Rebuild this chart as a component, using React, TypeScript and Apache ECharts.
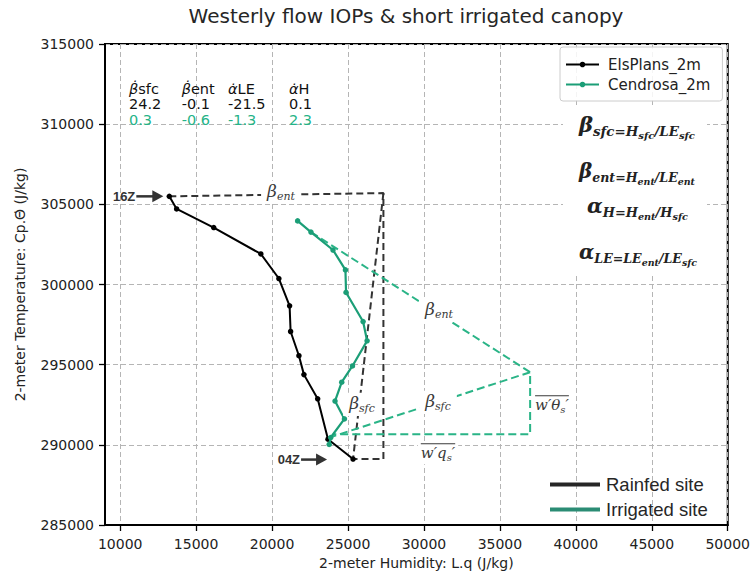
import React, { useEffect, useRef } from 'react';
import * as echarts from 'echarts';

// ---- data ----
const elsPlansX = [13234, 13716, 16158, 19260, 20448, 21154, 21220, 21768, 22098, 23002, 23682, 25332];
const elsPlansY = [305498, 304711, 303552, 301904, 300373, 298668, 297069, 295557, 294379, 292873, 290350, 289111];
const cendrosaX = [21682, 22560, 24012, 24830, 24870, 25992, 26256, 25292, 24586, 24144, 24764, 23860, 23761];
const cendrosaY = [303967, 303267, 302151, 300912, 299505, 297689, 296487, 294918, 293908, 292731, 291615, 290456, 290022];

const xTicks = [10000, 15000, 20000, 25000, 30000, 35000, 40000, 45000, 50000];
const yMin = 285000;
const yMax = 315000;
const yStep = 5000;

// ratio table (top-left)
const ratioSymbols = ['β̇', 'β̇', 'α̇', 'α̇'];
const ratioNames = ['sfc', 'ent', 'LE', 'H'];
const rainfedRatios = ['24.2', '-0.1', '-21.5', '0.1'];
const irrigatedRatios = ['0.3', '-0.6', '-1.3', '2.3'];

// annotation triangle vertices (data coordinates)
const rainfedCorner = [27330, 305700];
const irrigatedApex = [36990, 294530];
const irrigatedBottomY = 290660;
const irrigatedLeftX = 24050;
const irrigatedSfcEnd = [23990, 290520];

const BLACK = '#000000';
const GREEN = '#1b9e77';
const GREEN_DASH = '#2ab487';
const DARK = '#333333';
const SANS = '"DejaVu Sans", sans-serif';
const SERIF = '"DejaVu Serif", serif';
const ARIAL = '"Liberation Sans", Arial, sans-serif';

let _ctx: CanvasRenderingContext2D | null = null;
function measure(text: string, size: number, weight: string) {
  if (!_ctx) _ctx = document.createElement('canvas').getContext('2d');
  _ctx!.font = `italic ${weight} ${size}px ${SERIF}`;
  return _ctx!.measureText(text).width;
}

type Part = [string, number, number];
function mathLabel(
  parts: Part[],
  cx: number,
  baseline: number,
  opts: { color: string; weight: string; fitWidth?: number; bgPad?: number; overline?: boolean }
) {
  let sizes = parts.map((p) => p[1]);
  let widths = parts.map((p) => measure(p[0], p[1], opts.weight));
  let total = widths.reduce((a, b) => a + b, 0);
  let k = 1;
  if (opts.fitWidth) {
    k = opts.fitWidth / total;
    sizes = sizes.map((s) => s * k);
    widths = widths.map((w) => w * k);
    total = opts.fitWidth;
  }
  const els: any[] = [];
  const left = cx - total / 2;
  if (opts.bgPad != null) {
    els.push({
      type: 'rect',
      shape: { x: left - opts.bgPad, y: baseline - sizes[0] * 0.9 - 1, width: total + 2 * opts.bgPad, height: sizes[0] * 1.25 + 2 },
      style: { fill: '#ffffff' },
      z: 60,
    });
  }
  let x = left;
  parts.forEach((p, i) => {
    els.push({
      type: 'text',
      x,
      y: baseline + p[2] * k - 0.346 * sizes[i],
      style: {
        text: p[0],
        fontSize: sizes[i],
        fontFamily: SERIF,
        fontStyle: 'italic',
        fontWeight: opts.weight,
        fill: opts.color,
        align: 'left',
        verticalAlign: 'middle',
        textAlign: 'left',
        textVerticalAlign: 'middle',
        lineHeight: sizes[i],
      },
      z: 61,
    });
    x += widths[i];
  });
  if (opts.overline) {
    const oy = baseline - sizes[0] * 0.95;
    els.push({
      type: 'line',
      shape: { x1: left, y1: oy, x2: left + total, y2: oy },
      style: { stroke: opts.color, lineWidth: 1 },
      z: 61,
    });
  }
  return els;
}

function txt(x: number, y: number, text: string, style: any, z = 70) {
  return {
    type: 'text',
    x,
    y,
    z,
    style: { text, verticalAlign: 'middle', textVerticalAlign: 'middle', ...style },
  };
}

export default function App() {
  const ref = useRef<HTMLDivElement>(null);

  useEffect(() => {
    const chart = echarts.init(ref.current!, null, { renderer: 'svg' });
    const els = elsPlansX.map((x, i) => [x, elsPlansY[i]]);
    const cen = cendrosaX.map((x, i) => [x, cendrosaY[i]]);
    const firstB = els[0];
    const lastB = els[els.length - 1];

    const dashBlack = { color: DARK, width: 2, type: [7, 4] };
    const dashGreen = { color: GREEN_DASH, width: 2, type: [8, 4] };
    const helper = (data: number[][], ls: any) => ({
      type: 'line',
      data,
      symbol: 'none',
      silent: true,
      lineStyle: ls,
      z: 3,
      tooltip: { show: false },
    });

    chart.setOption({
      animation: false,
      backgroundColor: '#ffffff',
      grid: {
        left: 105,
        right: 25,
        top: 44,
        bottom: 47,
        show: true,
        borderColor: '#000',
        borderWidth: 2,
        backgroundColor: 'transparent',
        containLabel: false,
      },
      legend: {
        data: ['ElsPlans_2m', 'Cendrosa_2m'],
        orient: 'vertical',
        left: 560,
        top: 47,
        padding: [10, 12, 9, 5],
        itemGap: 5,
        itemWidth: 33,
        itemHeight: 7,
        backgroundColor: 'rgba(255,255,255,0.85)',
        borderColor: '#cccccc',
        borderWidth: 1,
        borderRadius: 3,
        textStyle: { fontSize: 15, lineHeight: 14, fontFamily: SANS, color: '#222', padding: [0, 0, 0, 4] },
        z: 20,
      },
      xAxis: {
        type: 'value',
        min: 9000,
        max: 50000,
        splitNumber: 8,
        name: '2-meter Humidity: L.q (J/kg)',
        nameLocation: 'middle',
        nameGap: 31,
        nameTextStyle: { fontSize: 14, fontFamily: SANS, color: '#222' },
        axisLine: { show: true, onZero: false, lineStyle: { color: '#000', width: 2 } },
        axisTick: { show: true, length: 6, customValues: xTicks, lineStyle: { color: '#000', width: 1.3 } },
        axisLabel: {
          customValues: xTicks,
          fontSize: 14,
          fontFamily: SANS,
          color: '#222',
          margin: 12,
          formatter: (v: number) => String(v),
        },
        splitLine: { show: true, lineStyle: { color: '#b5b5b5', width: 1, type: [5, 3] } },
      },
      yAxis: {
        type: 'value',
        min: yMin,
        max: yMax,
        interval: yStep,
        name: '2-meter Temperature: Cp.Θ̇ (J/kg)',
        nameLocation: 'middle',
        nameGap: 78,
        nameTextStyle: { fontSize: 14, fontFamily: SANS, color: '#222' },
        axisLine: { show: true, onZero: false, lineStyle: { color: '#000', width: 2 } },
        axisTick: { show: true, length: 6, lineStyle: { color: '#000', width: 1.3 } },
        axisLabel: { fontSize: 14, fontFamily: SANS, color: '#222', margin: 11, formatter: (v: number) => String(v) },
        splitLine: { show: true, lineStyle: { color: '#b5b5b5', width: 1, type: [5, 3] } },
      },
      series: [
        helper([firstB, rainfedCorner, [rainfedCorner[0], lastB[1]], lastB], dashBlack),
        helper([rainfedCorner, lastB], dashBlack),
        helper([cen[1], irrigatedApex, [irrigatedApex[0], irrigatedBottomY], [irrigatedLeftX, irrigatedBottomY]], dashGreen),
        helper([irrigatedApex, irrigatedSfcEnd], dashGreen),
        {
          name: 'ElsPlans_2m',
          type: 'line',
          data: els,
          symbol: 'circle',
          symbolSize: 5.5,
          lineStyle: { color: BLACK, width: 2 },
          itemStyle: { color: BLACK },
          z: 5,
        },
        {
          name: 'Cendrosa_2m',
          type: 'line',
          data: cen,
          symbol: 'circle',
          symbolSize: 5.5,
          lineStyle: { color: GREEN, width: 2.2 },
          itemStyle: { color: GREEN },
          z: 6,
        },
      ],
    });

    const toPx = (p: number[]) => chart.convertToPixel({ xAxisIndex: 0, yAxisIndex: 0 }, p) as number[];
    const pFirst = toPx(firstB);
    const pLast = toPx(lastB);

    const g: any[] = [];
    // title
    g.push(txt(406, 16, 'Westerly flow IOPs & short irrigated canopy', { fontSize: 20, fontFamily: SANS, fill: '#262626', align: 'center', textAlign: 'center' }));

    // ratio table
    const colX = [129, 181.7, 228, 289];
    const tstyle = { fontSize: 14.5, lineHeight: 14, fontFamily: SANS, align: 'left', textAlign: 'left' };
    ratioNames.forEach((nm, i) => {
      g.push(
        txt(colX[i], 89, `{g|${ratioSymbols[i]}}${nm}`, {
          ...tstyle,
          fill: '#111',
          rich: { g: { fontSize: 14.5, lineHeight: 14, fontFamily: SANS, fontStyle: 'italic', fill: '#111' } },
        })
      );
      g.push(txt(colX[i], 104, rainfedRatios[i], { ...tstyle, fill: '#111' }));
      g.push(txt(colX[i], 120, irrigatedRatios[i], { ...tstyle, fill: '#25b387' }));
    });

    // formula box
    g.push({ type: 'rect', shape: { x: 563, y: 106, width: 144, height: 168 }, style: { fill: '#ffffff' }, z: 50 });
    const F = (big: string, a: string, b: string, c: string, d: string): Part[] => [
      [big, 19, 0],
      [a, 12, 3.5],
      [b, 9, 6],
      [c, 12, 3.5],
      [d, 9, 6],
    ];
    const fo = { color: '#222', weight: 'bold' };
    g.push(...mathLabel(F('β', 'sfc=H', 'sfc', '/LE', 'sfc'), 637, 132, { ...fo, fitWidth: 116 }));
    g.push(...mathLabel(F('β', 'ent=H', 'ent', '/LE', 'ent'), 637, 178, { ...fo, fitWidth: 116 }));
    g.push(...mathLabel(F('α', 'H=H', 'ent', '/H', 'sfc'), 637.5, 213, { ...fo, fitWidth: 101 }));
    g.push(...mathLabel(F('α', 'LE=LE', 'ent', '/LE', 'sfc'), 638, 259, { ...fo, fitWidth: 118 }));

    // labels on the annotation triangles
    const lab = { color: '#3a3a3a', weight: 'normal', bgPad: 6 };
    g.push(...mathLabel([['β', 17, 0], ['ent', 11, 3]], 281, 197, lab));
    g.push(...mathLabel([['β', 17, 0], ['sfc', 11, 3]], 362, 409, lab));
    g.push(...mathLabel([['β', 17, 0], ['ent', 11, 3]], 439, 315, lab));
    g.push(...mathLabel([['β', 17, 0], ['sfc', 11, 3]], 438, 407, lab));
    g.push(...mathLabel([['w′θ', 15, 0], ['s', 10, 3], ['′', 15, 0]], 552, 410, { ...lab, bgPad: 3, overline: true }));
    g.push(...mathLabel([['w′q', 15, 0], ['s', 10, 3], ['′', 15, 0]], 438, 458, { ...lab, bgPad: 3, overline: true }));

    // arrows 16Z / 04Z
    const arrow = (tip: number, y: number, shaft: number, label: string) => {
      g.push({ type: 'line', shape: { x1: tip - shaft, y1: y, x2: tip - 9, y2: y }, style: { stroke: DARK, lineWidth: 2.5 }, z: 70 });
      g.push({ type: 'polygon', shape: { points: [[tip, y], [tip - 11, y - 6], [tip - 11, y + 6]] }, style: { fill: DARK }, z: 70 });
      g.push(txt(tip - shaft - 1, y, label, { fontSize: 13, fontFamily: ARIAL, fontWeight: 'bold', fill: DARK, align: 'right', textAlign: 'right' }));
    };
    arrow(pFirst[0] - 6, pFirst[1], 27, '16Z');
    arrow(pLast[0] - 26, pLast[1] + 0.5, 26, '04Z');

    // site legend (bottom right)
    g.push({ type: 'line', shape: { x1: 550, y1: 484.5, x2: 600, y2: 484.5 }, style: { stroke: '#262626', lineWidth: 4 }, z: 70 });
    g.push(txt(606, 484.5, 'Rainfed site', { fontSize: 18.5, fontFamily: ARIAL, fill: '#262626', align: 'left', textAlign: 'left' }));
    g.push({ type: 'line', shape: { x1: 550, y1: 509.5, x2: 600, y2: 509.5 }, style: { stroke: '#2b8c74', lineWidth: 4 }, z: 70 });
    g.push(txt(606, 509.5, 'Irrigated site', { fontSize: 18.5, fontFamily: ARIAL, fill: '#262626', align: 'left', textAlign: 'left' }));

    chart.setOption({ graphic: { elements: g } });

    return () => chart.dispose();
  }, []);

  return (
    <div
      ref={ref}
      style={{ position: 'fixed', left: 0, top: 0, width: 753, height: 575, background: '#ffffff' }}
    />
  );
}
